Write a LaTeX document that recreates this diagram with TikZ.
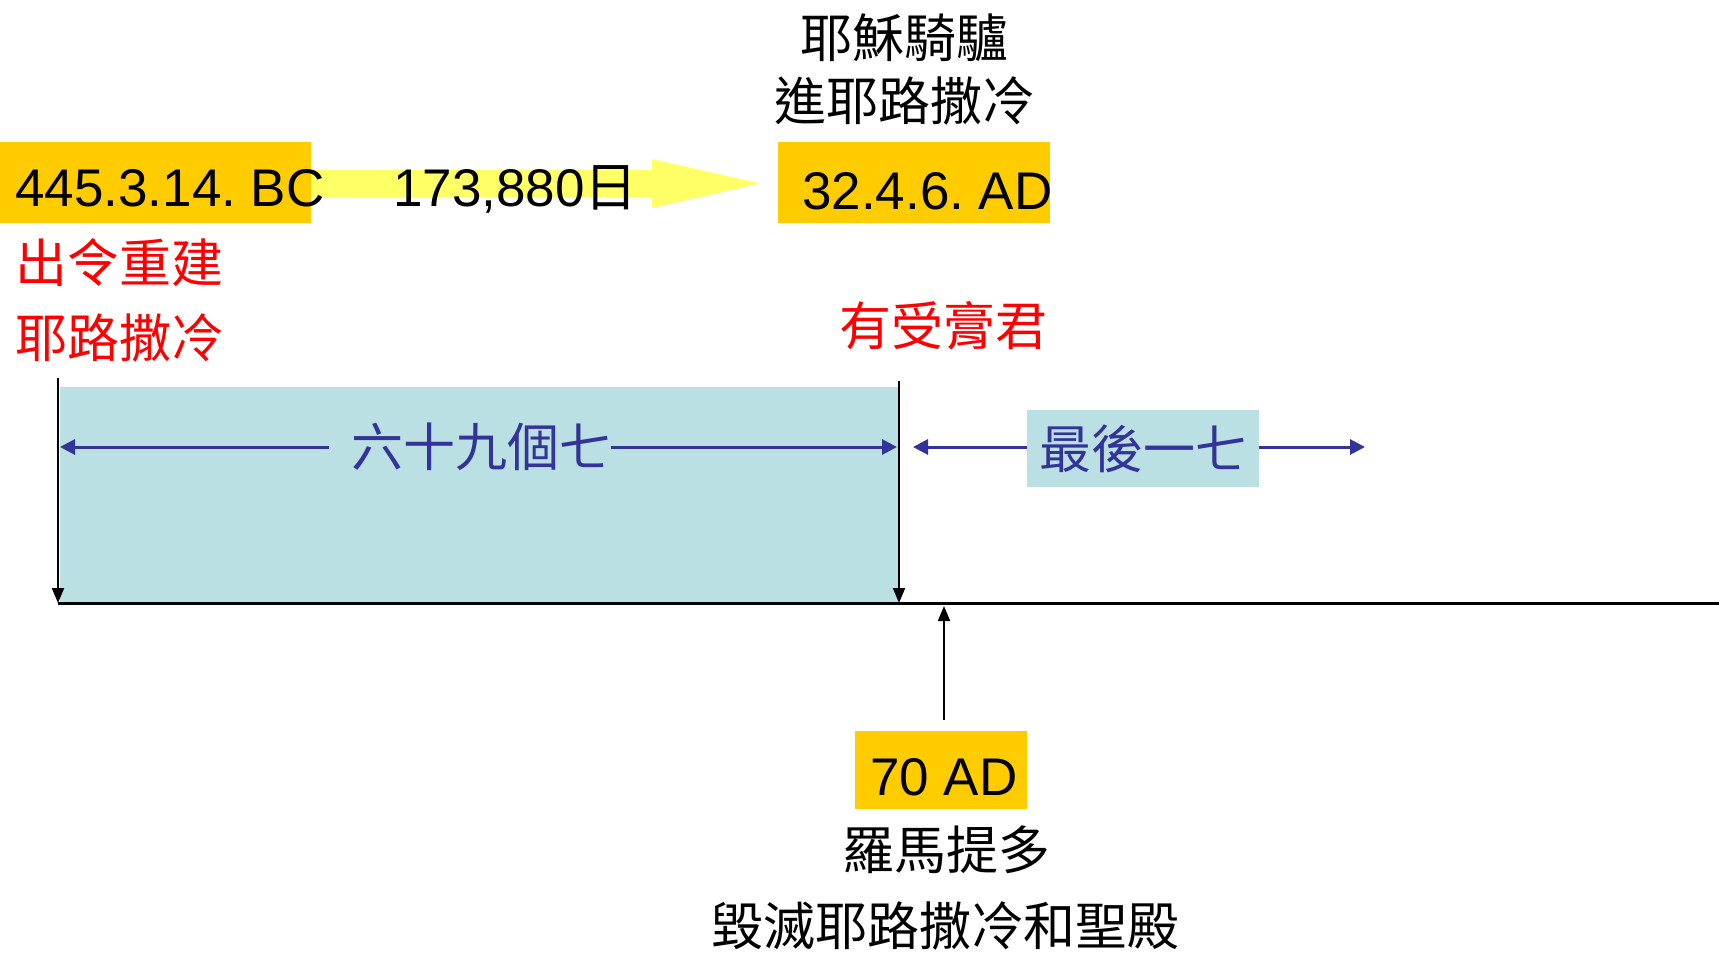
\documentclass[tikz,border=0pt]{standalone}
\usepackage{fontspec}
\setmainfont{Liberation Sans}
\newfontfamily\cjk{Noto Sans CJK TC}
\usetikzlibrary{arrows.meta}
\definecolor{gold}{HTML}{FFCC00}
\definecolor{lightyel}{HTML}{FFFF66}
\definecolor{teal1}{HTML}{BBE0E3}
\definecolor{navy1}{HTML}{333399}
\begin{document}
\begin{tikzpicture}[x=1pt,y=-1pt,
  lat/.style={font=\fontsize{53}{60}\selectfont, inner sep=0},
  han/.style={font=\fontsize{52}{60}\selectfont\cjk, inner sep=0},
  goldbox/.style={fill=gold, draw=none},
  blk/.style={draw=black, line width=2pt, -{Triangle[length=15pt,width=12pt]}},
  blu/.style={draw=navy1, line width=3pt, -{Triangle[length=15pt,width=15pt]}}]
\useasboundingbox (0,0) rectangle (1719,953);
% yellow block arrow
\fill[lightyel] (311,170) -- (652,170) -- (652,159) -- (760,183.5) -- (652,208) -- (652,197) -- (311,197) -- cycle;
% gold boxes
\fill[goldbox] (0,142) rectangle (311,223);
\fill[goldbox] (778,142) rectangle (1050,223);
\fill[goldbox] (855,731) rectangle (1027,809);
% teal region
\fill[teal1] (60,387) rectangle (899,603);
\fill[teal1] (1027,410) rectangle (1259,487);
% texts
\node[lat, anchor=base west] (bc) at (15,206) {445.3.14.\hspace{-5pt} BC};
\node[lat, anchor=base west] (days) at (393,206) {173,880{\cjk 日}};
\node[lat, anchor=base west] (ad) at (802,209) {32.4.6.\hspace{-5pt} AD};
\node[lat, anchor=base] (ad70) at (944,795) {70 AD};
\node[han] (t1) at (904,38) {耶穌騎驢};
\node[han] (t2) at (904,101) {進耶路撒冷};
\node[han, text=red, anchor=west] (r1) at (15,263) {出令重建};
\node[han, text=red, anchor=west] (r2) at (15,338) {耶路撒冷};
\node[han, text=red] (r3) at (943,326) {有受膏君};
\node[han] (b1) at (946,850) {羅馬提多};
\node[han] (b2) at (945,926) {毀滅耶路撒冷和聖殿};
\node[han, text=navy1] (s69) at (481,447) {六十九個七};
\node[han, text=navy1, minimum width=232pt, minimum height=77pt] (last) at (1143,448.5) {最後一七};
% coordinates
\coordinate (lt) at (58,378);
\coordinate (lb) at (58,603);
\coordinate (rt) at (899,381);
\coordinate (rb) at (899,603);
\coordinate (axisend) at (1719,603);
\coordinate (upfrom) at (944,720);
\coordinate (upto) at (944,606);
\coordinate (a69l) at (60,447);
\coordinate (a69r) at (897,447);
\coordinate (al) at (913,447);
\coordinate (ar) at (1365,447);
% black lines
\draw[line width=3pt] (lb) -- (axisend);
\draw[blk] (lt) -- (lb);
\draw[blk] (rt) -- (rb);
\draw[blk] (upfrom) -- (upto);
% blue arrows
\draw[blu] ([xshift=-22pt]s69.west |- a69l) -- (a69l);
\draw[blu] (s69.east |- a69r) -- (a69r);
\draw[blu] (last.west |- al) -- (al);
\draw[blu] (last.east |- ar) -- (ar);
\end{tikzpicture}
\end{document}
